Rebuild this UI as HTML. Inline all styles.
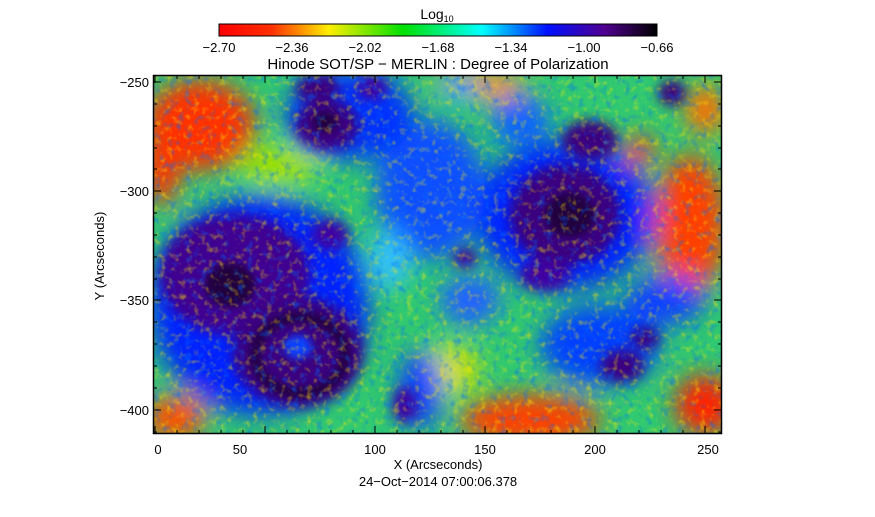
<!DOCTYPE html>
<html><head><style>
body{margin:0;background:#fff;}
svg text{font-family:"Liberation Sans",sans-serif;fill:#000;}
</style></head><body>
<svg width="875" height="512" xmlns="http://www.w3.org/2000/svg">
<defs>
<linearGradient id="cb" x1="0" x2="1" y1="0" y2="0">
<stop offset="0" stop-color="#ff0000"/>
<stop offset="0.12" stop-color="#ff3000"/>
<stop offset="0.25" stop-color="#ffee00"/>
<stop offset="0.42" stop-color="#00e000"/>
<stop offset="0.6" stop-color="#00ffff"/>
<stop offset="0.75" stop-color="#0010ff"/>
<stop offset="0.88" stop-color="#500090"/>
<stop offset="1" stop-color="#000000"/>
</linearGradient>
<clipPath id="pc"><rect x="153" y="75" width="569" height="359"/></clipPath>
<filter id="b1" x="-50%" y="-50%" width="200%" height="200%"><feGaussianBlur stdDeviation="12"/></filter>
<filter id="b2" x="-50%" y="-50%" width="200%" height="200%"><feGaussianBlur stdDeviation="6"/></filter>
<filter id="b3" x="-50%" y="-50%" width="200%" height="200%"><feGaussianBlur stdDeviation="4"/></filter>
<filter id="nz" x="0" y="0" width="100%" height="100%">
<feTurbulence type="fractalNoise" baseFrequency="0.15" numOctaves="2" seed="3"/>
<feColorMatrix type="matrix" values="0 0 0 0 1  0 0 0 0 0.85  0 0 0 0 0  0 0 0 3 -1.6"/>
</filter>
<filter id="nz2" x="0" y="0" width="100%" height="100%">
<feTurbulence type="fractalNoise" baseFrequency="0.13" numOctaves="2" seed="9"/>
<feColorMatrix type="matrix" values="0 0 0 0 0  0 0 0 0 0.15  0 0 0 0 1  0 0 0 3 -1.6"/>
</filter>
</defs>

<rect x="219" y="24" width="438" height="12" fill="url(#cb)" stroke="#000" stroke-width="1"/>
<text x="437" y="19" font-size="14" text-anchor="middle">Log<tspan font-size="9" dy="3">10</tspan></text>
<g font-size="13" text-anchor="middle">
<text x="219" y="52">−2.70</text><text x="292" y="52">−2.36</text><text x="365" y="52">−2.02</text>
<text x="438" y="52">−1.68</text><text x="511" y="52">−1.34</text><text x="584" y="52">−1.00</text><text x="657" y="52">−0.66</text>
</g>
<text x="438" y="69" font-size="15" text-anchor="middle">Hinode SOT/SP − MERLIN : Degree of Polarization</text>

<g clip-path="url(#pc)">
<rect x="153" y="75" width="569" height="359" fill="#30c870"/>
<g filter="url(#b1)">
<ellipse cx="200" cy="125" rx="55" ry="45" fill="#ff3000"/>
<ellipse cx="162" cy="165" rx="18" ry="40" fill="#ff3000"/>
<ellipse cx="690" cy="225" rx="35" ry="70" fill="#ff4000"/>
<ellipse cx="530" cy="420" rx="70" ry="25" fill="#ff4000"/>
<ellipse cx="705" cy="405" rx="30" ry="30" fill="#ff2000"/>
<ellipse cx="175" cy="418" rx="30" ry="22" fill="#ff5000"/>
<ellipse cx="480" cy="85" rx="45" ry="14" fill="#ff9000"/>
<ellipse cx="640" cy="150" rx="15" ry="15" fill="#ff4000"/>
<ellipse cx="450" cy="370" rx="30" ry="25" fill="#d0e000"/>
<ellipse cx="280" cy="165" rx="40" ry="20" fill="#a0e000"/>
<ellipse cx="705" cy="110" rx="20" ry="25" fill="#ff7000"/>
<ellipse cx="260" cy="305" rx="110" ry="110" fill="#0020ff"/>
<ellipse cx="565" cy="215" rx="90" ry="75" fill="#0020ff"/>
<ellipse cx="430" cy="190" rx="55" ry="70" fill="#1050ff"/>
<ellipse cx="350" cy="115" rx="65" ry="45" fill="#0030ff"/>
<ellipse cx="600" cy="345" rx="60" ry="40" fill="#0040ff"/>
<ellipse cx="420" cy="390" rx="22" ry="40" fill="#1040ff"/>
<ellipse cx="665" cy="300" rx="40" ry="25" fill="#1040ff"/>
<ellipse cx="470" cy="300" rx="30" ry="25" fill="#2060ff"/>
<ellipse cx="520" cy="120" rx="30" ry="25" fill="#1060ff"/>
<ellipse cx="390" cy="260" rx="20" ry="30" fill="#30c0ff"/>
<ellipse cx="460" cy="90" rx="20" ry="12" fill="#20a0ff"/>
</g>
<g filter="url(#b2)">
<ellipse cx="235" cy="275" rx="75" ry="60" fill="#400090"/>
<ellipse cx="298" cy="352" rx="65" ry="55" fill="#3a0080"/>
<ellipse cx="565" cy="215" rx="55" ry="50" fill="#3a0080"/>
<ellipse cx="327" cy="125" rx="32" ry="25" fill="#3a0080"/>
<ellipse cx="318" cy="88" rx="22" ry="14" fill="#3a0080"/>
<ellipse cx="372" cy="88" rx="15" ry="12" fill="#4000a0"/>
<ellipse cx="590" cy="140" rx="28" ry="20" fill="#3a0080"/>
<ellipse cx="672" cy="93" rx="14" ry="13" fill="#3a0080"/>
<ellipse cx="622" cy="366" rx="22" ry="16" fill="#3a0080"/>
<ellipse cx="645" cy="338" rx="14" ry="11" fill="#3a0080"/>
<ellipse cx="465" cy="258" rx="12" ry="10" fill="#4000a0"/>
<ellipse cx="545" cy="275" rx="25" ry="15" fill="#4000a0"/>
<ellipse cx="405" cy="405" rx="12" ry="18" fill="#4000a0"/>
<ellipse cx="330" cy="235" rx="18" ry="15" fill="#4000a0"/>
</g>
<g filter="url(#b3)">
<ellipse cx="230" cy="285" rx="25" ry="22" fill="#200040"/>
<ellipse cx="570" cy="215" rx="25" ry="22" fill="#200040"/>
<ellipse cx="300" cy="355" rx="45" ry="38" fill="none" stroke="#200040" stroke-width="10"/>
<ellipse cx="298" cy="347" rx="14" ry="12" fill="#1040ff"/>
<ellipse cx="325" cy="122" rx="12" ry="10" fill="#200040"/>
</g>
<rect x="153" y="75" width="569" height="359" filter="url(#nz)" opacity="0.45"/>
<rect x="153" y="75" width="569" height="359" filter="url(#nz2)" opacity="0.45"/>
</g>
<rect x="153.5" y="75.5" width="568" height="358" fill="none" stroke="#000" stroke-width="1.5"/>

<g stroke="#000" stroke-width="1">
<path d="M155 434v-8M265 434v-8M375 434v-8M485 434v-8M595 434v-8M705 434v-8M155 75v8M265 75v8M375 75v8M485 75v8M595 75v8M705 75v8"/>
<path d="M177 434v-4M199 434v-4M221 434v-4M243 434v-4M287 434v-4M309 434v-4M331 434v-4M353 434v-4M397 434v-4M419 434v-4M441 434v-4M463 434v-4M507 434v-4M529 434v-4M551 434v-4M573 434v-4M617 434v-4M639 434v-4M661 434v-4M683 434v-4
M177 75v4M199 75v4M221 75v4M243 75v4M287 75v4M309 75v4M331 75v4M353 75v4M397 75v4M419 75v4M441 75v4M463 75v4M507 75v4M529 75v4M551 75v4M573 75v4M617 75v4M639 75v4M661 75v4M683 75v4"/>
<path d="M153 82h8M153 191h8M153 300h8M153 410h8M722 82h-8M722 191h-8M722 300h-8M722 410h-8"/>
<path d="M153 104h4M153 126h4M153 148h4M153 169h4M153 213h4M153 235h4M153 257h4M153 279h4M153 322h4M153 344h4M153 366h4M153 388h4M153 432h4
M722 104h-4M722 126h-4M722 148h-4M722 169h-4M722 213h-4M722 235h-4M722 257h-4M722 279h-4M722 322h-4M722 344h-4M722 366h-4M722 388h-4M722 432h-4"/>
</g>
<g font-size="13" text-anchor="middle">
<text x="158" y="454">0</text><text x="240" y="454">50</text><text x="375" y="454">100</text>
<text x="485" y="454">150</text><text x="595" y="454">200</text><text x="708" y="454">250</text>
</g>
<g font-size="13" text-anchor="end">
<text x="149" y="87">−250</text><text x="149" y="196">−300</text><text x="149" y="305">−350</text><text x="149" y="415">−400</text>
</g>
<text x="438" y="469" font-size="13" text-anchor="middle">X (Arcseconds)</text>
<text x="438" y="486" font-size="13" text-anchor="middle">24−Oct−2014 07:00:06.378</text>
<text transform="translate(104 256) rotate(-90)" font-size="13" text-anchor="middle">Y (Arcseconds)</text>
</svg>
</body></html>
